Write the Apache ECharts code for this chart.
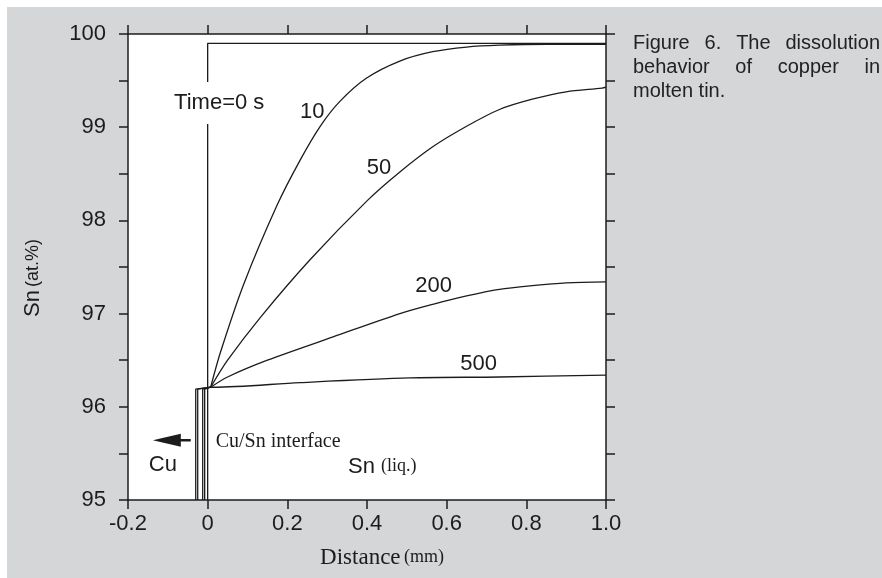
<!DOCTYPE html>
<html>
<head>
<meta charset="utf-8">
<script src="https://cdn.jsdelivr.net/npm/echarts@6/dist/echarts.min.js"></script>
<style>
  html, body { margin: 0; padding: 0; background: #fff; }
  #chart { width: 882px; height: 578px; }
</style>
</head>
<body>
<div id="chart"></div>
<script>
// tick labels
var xTickLabels = ['-0.2', '0', '0.2', '0.4', '0.6', '0.8', '1.0'];
var yTickLabels = ['95', '96', '97', '98', '99', '100'];

// Time = 0 s step profile
var time0X = [0, 0, 1.0];
var time0Y = [95, 99.9, 99.9];

// Cu/Sn interface position of each profile (mm)
var times = ['10', '50', '200', '500'];
var interfaceX = [-0.0075, -0.0125, -0.025, -0.03];
var interfaceTop = 96.19;

// concentration profiles in the liquid
var curve10X = [0.0075, 0.0325, 0.09, 0.175, 0.2325, 0.2825, 0.3325, 0.40, 0.4825, 0.565, 0.65, 0.7325, 0.85, 1.0];
var curve10Y = [96.21, 96.59, 97.31, 98.17, 98.65, 99.01, 99.28, 99.53, 99.71, 99.81, 99.86, 99.88, 99.89, 99.89];

var curve50X = [0.0075, 0.05, 0.1325, 0.2575, 0.4025, 0.4825, 0.565, 0.65, 0.7325, 0.815, 0.90, 0.99, 1.0];
var curve50Y = [96.21, 96.50, 96.96, 97.58, 98.22, 98.52, 98.79, 99.01, 99.19, 99.30, 99.38, 99.42, 99.43];

var curve200X = [0.0075, 0.05, 0.15, 0.315, 0.4825, 0.565, 0.65, 0.7325, 0.815, 0.90, 1.0];
var curve200Y = [96.21, 96.32, 96.50, 96.75, 97.00, 97.10, 97.19, 97.26, 97.30, 97.33, 97.34];

var curve500X = [0.0075, 0.015, 0.2325, 0.5075, 0.7325, 1.0];
var curve500Y = [96.21, 96.21, 96.26, 96.31, 96.32, 96.34];

var captionLines = ['Figure 6. The dissolution', 'behavior of copper in', 'molten tin.'];

var SANS = '"Liberation Sans", Arial, Helvetica, sans-serif';
var SERIF = '"Liberation Serif", "Times New Roman", serif';
var INK = '#1c1c1c';

function zip(xs, ys) {
    return xs.map(function (x, i) { return [x, ys[i]]; });
}

var curves = [curve10X, curve50X, curve200X, curve500X].map(function (xs, i) {
    var ys = [curve10Y, curve50Y, curve200Y, curve500Y][i];
    return zip(xs, ys);
});

var lineStyle = {color: INK, width: 1.3};
var series = [];

series.push({
    name: '0', type: 'line', data: zip(time0X, time0Y),
    symbol: 'none', silent: true, lineStyle: lineStyle, z: 2
});

times.forEach(function (t, i) {
    var start = curves[i][0];
    series.push({
        name: t + ' interface', type: 'line',
        data: [[interfaceX[i], 95], [interfaceX[i], interfaceTop], start],
        symbol: 'none', silent: true, lineStyle: lineStyle, z: 2
    });
    series.push({
        name: t, type: 'line', data: curves[i],
        symbol: 'none', silent: true, smooth: 0.3,
        lineStyle: lineStyle, z: 2
    });
});

// arrow pointing into the copper
series.push({
    name: 'arrow', type: 'line', silent: true, z: 3,
    symbol: 'none', showSymbol: true,
    lineStyle: {color: INK, width: 2.5},
    data: [
        [-0.0425, 95.64],
        {value: [-0.1025, 95.64], symbol: 'triangle', symbolSize: [13, 28], symbolRotate: 90,
         itemStyle: {color: INK, opacity: 1}}
    ]
});

// text annotations, anchored in data coordinates
var annotations = [
    {name: 'Time=0 s', value: [0.029, 99.26], label: {backgroundColor: '#fff', padding: [10, 3]}},
    {name: '10', value: [0.2625, 99.16]},
    {name: '50', value: [0.43, 98.56]},
    {name: '200', value: [0.5675, 97.30]},
    {name: '500', value: [0.68, 96.46]},
    {name: 'Cu', value: [-0.1125, 95.38]},
    {name: 'Cu/Sn interface', value: [0.02, 95.63],
     label: {align: 'left', fontFamily: SERIF, fontSize: 20}},
    {name: 'Sn (liq.)', value: [0.3525, 95.36],
     label: {align: 'left', formatter: '{a|Sn} {b|(liq.)}'}}
];
series.push({
    name: 'labels', type: 'scatter', silent: true, z: 10,
    symbolSize: 0, data: annotations,
    itemStyle: {opacity: 1},
    label: {
        show: true, position: 'inside', formatter: '{b}',
        fontFamily: SANS, fontSize: 22, color: INK, opacity: 1,
        rich: {
            a: {fontFamily: SANS, fontSize: 22, color: INK},
            b: {fontFamily: SERIF, fontSize: 18, color: INK}
        }
    }
});

var axisLine = {onZero: false, lineStyle: {color: INK, width: 1.5}};
var axisTick = {length: 9, lineStyle: {color: INK, width: 1.5}};

var chart = echarts.init(document.getElementById('chart'), null, {renderer: 'canvas'});

// caption, justified like the printed figure
var capLeft = 633, capRight = 880, capFont = '20px ' + SANS;
var ctx = document.createElement('canvas').getContext('2d');
ctx.font = capFont;
var captionGraphics = [];
captionLines.forEach(function (line, li) {
    var words = line.split(' ');
    var widths = words.map(function (w) { return ctx.measureText(w).width; });
    var total = widths.reduce(function (a, b) { return a + b; }, 0);
    var gap = li < captionLines.length - 1
        ? (capRight - capLeft - total) / (words.length - 1)
        : ctx.measureText(' ').width;
    var x = capLeft;
    words.forEach(function (w, wi) {
        captionGraphics.push({
            type: 'text', x: x, y: 43 + li * 24, silent: true,
            style: {text: w, font: capFont, fill: '#222', textVerticalAlign: 'middle', verticalAlign: 'middle'}
        });
        x += widths[wi] + gap;
    });
});

chart.setOption({
    animation: false,
    backgroundColor: '#d5d6d8',
    grid: {left: 128, right: 276, top: 34, bottom: 78, show: true, backgroundColor: '#fff', borderWidth: 0},
    xAxis: [{
        type: 'value', position: 'bottom', min: -0.2, max: 1.0, interval: 0.2,
        axisLine: axisLine, axisTick: axisTick, splitLine: {show: false},
        axisLabel: {
            formatter: function (v, i) { return xTickLabels[i]; },
            fontFamily: SANS, fontSize: 22, color: INK, margin: 13
        },
        name: '{a|Distance} {b|(mm)}', nameLocation: 'middle', nameGap: 46,
        nameTextStyle: {
            padding: [0, 0, 0, 30],
            rich: {
                a: {fontFamily: SERIF, fontSize: 23, color: INK},
                b: {fontFamily: SERIF, fontSize: 18, color: INK}
            }
        }
    }, {
        type: 'value', position: 'top', min: -0.2, max: 1.0, interval: 0.2,
        axisLine: axisLine, axisTick: axisTick, splitLine: {show: false},
        axisLabel: {show: false}
    }],
    yAxis: [{
        type: 'value', position: 'left', min: 95, max: 100, interval: 0.5,
        axisLine: axisLine, axisTick: axisTick, splitLine: {show: false},
        axisLabel: {
            formatter: function (v) {
                return Number.isInteger(v) ? yTickLabels[v - 95] : '';
            },
            fontFamily: SANS, fontSize: 22, color: INK, margin: 22
        },
        name: '{a|Sn}{b|(at.%)}', nameLocation: 'middle', nameGap: 84,
        nameTextStyle: {
            padding: [0, 22, 0, 0],
            rich: {
                a: {fontFamily: SANS, fontSize: 22, color: INK, padding: [0, 3, 0, 0]},
                b: {fontFamily: SANS, fontSize: 18, color: INK}
            }
        }
    }, {
        type: 'value', position: 'right', min: 95, max: 100, interval: 0.5,
        axisLine: axisLine, axisTick: axisTick, splitLine: {show: false},
        axisLabel: {show: false}
    }],
    graphic: [
        {type: 'rect', shape: {x: 0, y: 0, width: 882, height: 7}, style: {fill: '#fff'}, silent: true},
        {type: 'rect', shape: {x: 0, y: 0, width: 7, height: 578}, style: {fill: '#fff'}, silent: true}
    ].concat(captionGraphics),
    series: series
});
</script>
</body>
</html>
